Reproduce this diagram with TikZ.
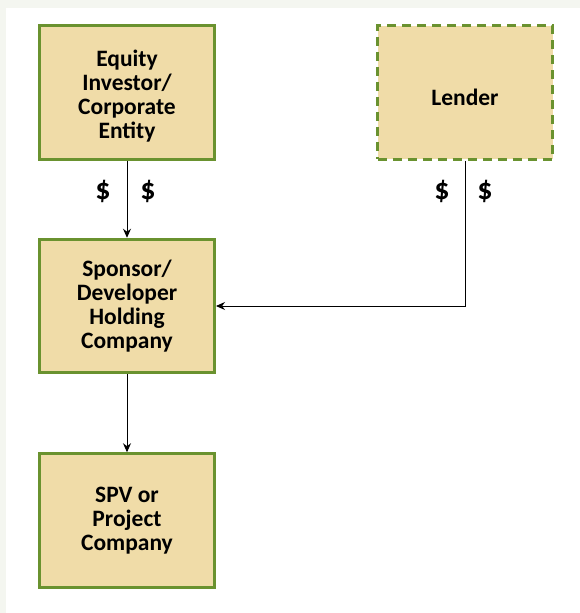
\documentclass[tikz,border=0pt]{standalone}
\usepackage{fontspec}
\setmainfont{Carlito}
\usetikzlibrary{positioning,arrows.meta}

\definecolor{boxfill}{HTML}{F0DCA8}
\definecolor{boxline}{HTML}{6A922F}
\definecolor{pagegray}{HTML}{F4F6F0}

% taller first line, pushes the text of a box a little down
\newcommand\headstrut[1]{\rule{0pt}{#1}}

\begin{document}
\begin{tikzpicture}[x=1pt,y=-1pt,
  box/.style={draw=boxline,fill=boxfill,line width=3pt,
    minimum width=175pt,minimum height=133.5pt,
    align=center,font=\fontsize{23.5}{24}\selectfont\bfseries},
  dollar/.style={font=\fontsize{30}{30}\selectfont\bfseries},
  flow/.style={-{Stealth[length=9pt,width=8pt]},line width=0.9pt}]
\useasboundingbox (0,0) rectangle (580,613);
\fill[pagegray] (0,0) rectangle (580,613);
\fill[white] (6,8) rectangle (580,613);

\node[box] (equity) at (127,92.5) {\headstrut{24pt}Equity\\Investor/\\Corporate\\Entity};
\node[box,dash pattern=on 9pt off 6pt,right=160pt of equity] (lender) {\headstrut{27pt}Lender};
\node[box,below=77pt of equity] (sponsor) {Sponsor/\\Developer\\Holding\\Company};
\node[box,below=78pt of sponsor] (spv) {SPV or\\Project\\Company};

\draw[flow] (equity) -- (sponsor);
\draw[flow] (lender.south) |- (sponsor.east);
\draw[flow] (sponsor) -- (spv);

\node[dollar] (d1) at (103,191) {\$};
\node[dollar] (d2) at (148,191) {\$};
\node[dollar] (d3) at (442,191) {\$};
\node[dollar] (d4) at (485,191) {\$};
\end{tikzpicture}
\end{document}
